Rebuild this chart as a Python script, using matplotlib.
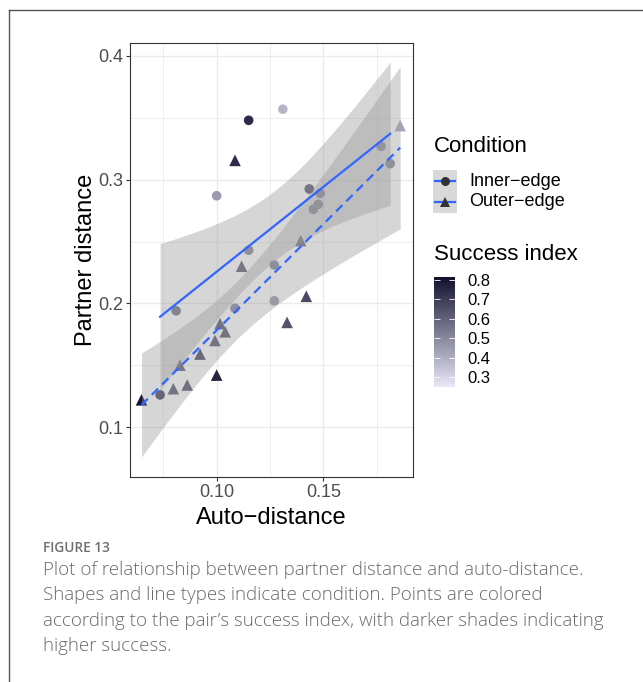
import numpy as np
import matplotlib.pyplot as plt
from matplotlib.colors import LinearSegmentedColormap, Normalize
from matplotlib.lines import Line2D
from matplotlib.patches import Rectangle

# inner-edge pairs
inner_x = [0.0735, 0.081, 0.100, 0.115, 0.131, 0.1086, 0.115, 0.127, 0.127,
           0.1434, 0.1485, 0.1476, 0.1453, 0.177, 0.1813]
inner_y = [0.126, 0.194, 0.287, 0.348, 0.357, 0.196, 0.243, 0.231, 0.202,
           0.2925, 0.289, 0.280, 0.276, 0.327, 0.313]
inner_s = [0.68, 0.55, 0.45, 0.74, 0.38, 0.50, 0.50, 0.50, 0.45,
           0.62, 0.50, 0.50, 0.50, 0.50, 0.50]

# outer-edge pairs
outer_x = [0.0648, 0.0797, 0.0862, 0.0828, 0.0922, 0.0992, 0.104, 0.1016,
           0.100, 0.133, 0.142, 0.1086, 0.1117, 0.1394, 0.186]
outer_y = [0.122, 0.131, 0.134, 0.150, 0.159, 0.170, 0.177, 0.1836,
           0.142, 0.1846, 0.2057, 0.3156, 0.230, 0.2507, 0.3437]
outer_s = [0.80, 0.62, 0.63, 0.60, 0.66, 0.62, 0.62, 0.62,
           0.76, 0.64, 0.66, 0.74, 0.60, 0.56, 0.42]

xticks = [0.10, 0.15]
yticks = [0.1, 0.2, 0.3, 0.4]
cb_ticks = [0.3, 0.4, 0.5, 0.6, 0.7, 0.8]
caption = ("Plot of relationship between partner distance and auto-distance.\n"
           "Shapes and line types indicate condition. Points are colored\n"
           "according to the pair\u2019s success index, with darker shades indicating\n"
           "higher success.")

T975 = 2.160  # t quantile, df = 13

cmap = LinearSegmentedColormap.from_list("succ", ["#E8E8F8", "#10102E"])
norm = Normalize(vmin=0.248, vmax=0.815)
BLUE = "#3366FF"

plt.rcParams['font.family'] = ['Liberation Sans', 'DejaVu Sans']

fig = plt.figure(figsize=(6.43, 6.82), dpi=100)
ax = fig.add_axes([130 / 643, 1 - 477 / 682, 283 / 643, 434 / 682])


def smooth(x, y, ls):
    x = np.asarray(x)
    y = np.asarray(y)
    b, a = np.polyfit(x, y, 1)
    xs = np.linspace(x.min(), x.max(), 80)
    fit = a + b * xs
    resid = y - (a + b * x)
    n = len(x)
    s = np.sqrt(np.sum(resid ** 2) / (n - 2))
    se = s * np.sqrt(1 / n + (xs - x.mean()) ** 2 / np.sum((x - x.mean()) ** 2))
    ax.fill_between(xs, fit - T975 * se, fit + T975 * se, color="#999999",
                    alpha=0.4, lw=0, zorder=3)
    ax.plot(xs, fit, color=BLUE, lw=1.6, ls=ls, zorder=4)


ax.scatter(inner_x, inner_y, c=inner_s, cmap=cmap, norm=norm, marker='o',
           s=48, lw=0, zorder=2)
ax.scatter(outer_x, outer_y, c=outer_s, cmap=cmap, norm=norm, marker='^',
           s=70, lw=0, zorder=2)
smooth(inner_x, inner_y, '-')
smooth(outer_x, outer_y, (0, (4, 2.5)))

ax.set_xlim(0.0594, 0.192)
ax.set_ylim(0.0596, 0.4105)
ax.set_xticks(xticks)
ax.set_xticklabels(["0.10", "0.15"])
ax.set_yticks(yticks)
ax.set_yticklabels(["0.1", "0.2", "0.3", "0.4"])
ax.set_xticks([0.075, 0.125, 0.175], minor=True)
ax.set_yticks([0.15, 0.25, 0.35], minor=True)
ax.grid(True, which='major', color="#EBEBEB", lw=1.0, zorder=0)
ax.grid(True, which='minor', color="#EBEBEB", lw=0.6, zorder=0)
ax.set_axisbelow(True)
ax.tick_params(which='major', length=3, color="#333333", labelsize=13,
               labelcolor="#4D4D4D", pad=2)
ax.tick_params(which='minor', length=0)
for sp in ax.spines.values():
    sp.set_color("#333333")
    sp.set_linewidth(0.8)
ax.set_xlabel("Auto\u2212distance", fontsize=17, labelpad=4)
ax.set_ylabel("Partner distance", fontsize=17, labelpad=1)

# condition legend
fig.text(434 / 643, 1 - 146 / 682, "Condition", fontsize=16, va='center')
lax = fig.add_axes([433 / 643, 1 - 213 / 682, 24 / 643, 43 / 682])
lax.set_xlim(0, 1)
lax.set_ylim(0, 2)
lax.axis('off')
for i, (mk, lab) in enumerate([('o', "Inner\u2212edge"), ('^', "Outer\u2212edge")]):
    yc = 1.5 - i
    lax.add_patch(Rectangle((0, yc - 0.5), 1, 1, color="#D9D9D9", lw=0))
    lax.plot([0.1, 0.9], [yc, yc], color=BLUE, lw=1.6)
    lax.plot([0.5], [yc], marker=mk, ms=6.5 if mk == 'o' else 7,
             color="#333333", mew=0)
    fig.text(469 / 643, 1 - (181 + 21 * i) / 682, lab, fontsize=13, va='center')

# success index colorbar
fig.text(434 / 643, 1 - 254 / 682, "Success index", fontsize=16, va='center')
cax = fig.add_axes([434 / 643, 1 - 387 / 682, 21 / 643, 110 / 682])
sm = plt.cm.ScalarMappable(norm=norm, cmap=cmap)
cb = fig.colorbar(sm, cax=cax, ticks=cb_ticks)
cb.outline.set_visible(False)
cb.ax.set_yticklabels(["0.3", "0.4", "0.5", "0.6", "0.7", "0.8"])
cax.tick_params(left=True, right=True, direction='in', color='white',
                length=4, width=0.6, labelsize=12, pad=9)

# figure frame and caption
fig.add_artist(Line2D([9 / 643, 9 / 643], [0, 1 - 10 / 682], color="#555555",
                      lw=1.0, transform=fig.transFigure))
fig.add_artist(Line2D([9 / 643, 1], [1 - 10 / 682, 1 - 10 / 682],
                      color="#555555", lw=1.0, transform=fig.transFigure))
fig.text(43 / 643, 1 - 548 / 682, "FIGURE 13", fontsize=9.8, color="#6E6E6E",
         family=['Open Sans', 'DejaVu Sans'], weight='semibold', va='center')
fig.text(43 / 643, 1 - 561 / 682, caption, fontsize=13.5, color="#6A6A6A",
         family=['Open Sans', 'DejaVu Sans'], weight='light', va='top',
         linespacing=1.53)

fig.savefig("out.png", dpi=100)
